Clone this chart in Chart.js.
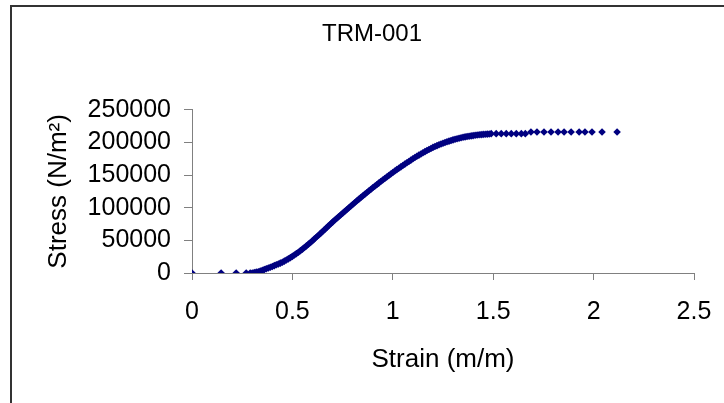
<!DOCTYPE html>
<html>
<head>
<meta charset="utf-8">
<script src="https://cdn.jsdelivr.net/npm/chart.js@4/dist/chart.umd.min.js"></script>
<style>
  html, body { margin: 0; padding: 0; background: #fff; overflow: hidden; width: 724px; height: 403px; }
  #frame { position: absolute; left: 10px; top: 5px; width: 760px; height: 420px; border-left: 2px solid #333; border-top: 2px solid #333; }
  #box { position: absolute; left: 0; top: 0; width: 720px; height: 396px; }
</style>
</head>
<body>
<div id="frame"><div id="box"><canvas id="trm"></canvas></div></div>
<script>
// readings
const strain = [
    0, 0.145, 0.22, 0.27, 0.29,
    0.30, 0.31, 0.32, 0.33, 0.34, 0.35, 0.36, 0.37, 0.38, 0.39,
    0.40, 0.41, 0.42, 0.43, 0.44, 0.45, 0.46, 0.47, 0.48, 0.49,
    0.50, 0.51, 0.52, 0.53, 0.54, 0.55, 0.56, 0.57, 0.58, 0.59,
    0.60, 0.61, 0.62, 0.63, 0.64, 0.65, 0.66, 0.67, 0.68, 0.69,
    0.70, 0.71, 0.72, 0.73, 0.74, 0.75, 0.76, 0.77, 0.78, 0.79,
    0.80, 0.81, 0.82, 0.83, 0.84, 0.85, 0.86, 0.87, 0.88, 0.89,
    0.90, 0.91, 0.92, 0.93, 0.94, 0.95, 0.96, 0.97, 0.98, 0.99,
    1.00, 1.01, 1.02, 1.03, 1.04, 1.05, 1.06, 1.07, 1.08, 1.09,
    1.10, 1.11, 1.12, 1.13, 1.14, 1.15, 1.16, 1.17, 1.18, 1.19,
    1.20, 1.21, 1.22, 1.23, 1.24, 1.25, 1.26, 1.27, 1.28, 1.29,
    1.30, 1.31, 1.32, 1.33, 1.34, 1.35, 1.36, 1.37, 1.38, 1.39,
    1.40, 1.41, 1.42, 1.43, 1.44, 1.45, 1.46, 1.47, 1.48,
    1.49, 1.515, 1.54, 1.565, 1.59, 1.615, 1.64, 1.66,
    1.688, 1.718, 1.753, 1.788, 1.823, 1.853, 1.888, 1.928, 1.957, 1.992, 2.042, 2.117
];
const stress = [
    0, 0, 0, 0, 0,
    0, 600, 1300, 2000, 3000, 4000, 5200, 6400, 7600, 8800,
    10000, 11300, 12600, 13900, 15200, 16500, 18200, 19900, 21700, 23500,
    25500, 27600, 29700, 31900, 34200, 36500, 39000, 41600, 44200, 46800,
    49500, 52300, 55100, 57900, 60700, 63500, 66400, 69300, 72200, 75100,
    78000, 80700, 83400, 86100, 88800, 91500, 94200, 96900, 99600, 102300,
    105000, 107600, 110200, 112800, 115400, 118000, 120500, 123000, 125500, 128000,
    130500, 132900, 135300, 137700, 140100, 142500, 144800, 147100, 149400, 151700,
    154000, 156200, 158400, 160500, 162600, 164700, 166800, 168900, 170900, 172900,
    175000, 176900, 178800, 180600, 182400, 184200, 185900, 187600, 189200, 190800,
    192400, 193800, 195100, 196400, 197600, 198800, 199900, 201000, 202000, 203000,
    204000, 204900, 205700, 206500, 207200, 207900, 208500, 209000, 209500, 210000,
    210500, 210900, 211300, 211700, 212000, 212300, 212600, 212800, 213000,
    213500, 213500, 213500, 213500, 213500, 213500, 213500, 213500,
    216000, 216000, 216000, 216000, 216000, 216000, 216000, 216000, 216000, 216000, 216000, 216000
];
const xTicks = [0, 0.5, 1, 1.5, 2, 2.5];
const yTicks = [0, 50000, 100000, 150000, 200000, 250000];

const font = 'Liberation Sans, Arial, sans-serif';
const axisGray = '#808080';

const ctx = document.getElementById('trm').getContext('2d');
const chart = new Chart(ctx, {
    type: 'scatter',
    data: {
        datasets: [{
            label: 'TRM-001',
            data: strain.map((s, i) => ({ x: s, y: stress[i] })),
            pointStyle: 'rectRot',
            pointRadius: 3.8,
            borderWidth: 0,
            backgroundColor: '#000080',
            borderColor: '#000080'
        }]
    },
    options: {
        responsive: true,
        maintainAspectRatio: false,
        animation: false,
        layout: { padding: 0 },
        plugins: {
            legend: { display: false },
            tooltip: { enabled: false },
            title: {
                display: true,
                text: 'TRM-001',
                color: '#000',
                font: { family: font, size: 24, weight: 'normal' },
                padding: { top: 13, bottom: 61 }
            }
        },
        scales: {
            x: {
                type: 'linear',
                min: xTicks[0],
                max: xTicks[xTicks.length - 1],
                afterBuildTicks: s => { s.ticks = xTicks.map(v => ({ value: v })); },
                afterFit: s => { s.height = 130; },
                border: { display: true, color: axisGray, width: 1 },
                grid: { display: true, drawOnChartArea: false, drawTicks: true, tickLength: 7, tickColor: axisGray },
                ticks: {
                    color: '#000',
                    padding: 17,
                    maxRotation: 0,
                    autoSkip: false,
                    font: { family: font, size: 25 },
                    callback: v => String(v)
                },
                title: {
                    display: true,
                    text: 'Strain (m/m)',
                    color: '#000',
                    font: { family: font, size: 26 },
                    padding: { top: 0, bottom: 28 }
                }
            },
            y: {
                type: 'linear',
                min: yTicks[0],
                max: yTicks[yTicks.length - 1],
                afterBuildTicks: s => { s.ticks = yTicks.map(v => ({ value: v })); },
                afterFit: s => { s.width = 180; },
                border: { display: true, color: axisGray, width: 1 },
                grid: { display: true, drawOnChartArea: false, drawTicks: true, tickLength: 8, tickColor: axisGray },
                ticks: {
                    color: '#000',
                    padding: 13,
                    autoSkip: false,
                    font: { family: font, size: 25 },
                    callback: v => String(v)
                },
                title: {
                    display: true,
                    text: 'Stress (N/m²)',
                    color: '#000',
                    font: { family: font, size: 26 },
                    padding: { top: 31, bottom: 0 }
                }
            },
            // empty right-hand box, only keeps the plot clear of the right edge
            spacer: {
                type: 'linear',
                position: 'right',
                afterFit: s => { s.width = 38; },
                border: { display: false },
                grid: { display: false },
                ticks: { display: false }
            }
        }
    }
});
</script>
</body>
</html>
